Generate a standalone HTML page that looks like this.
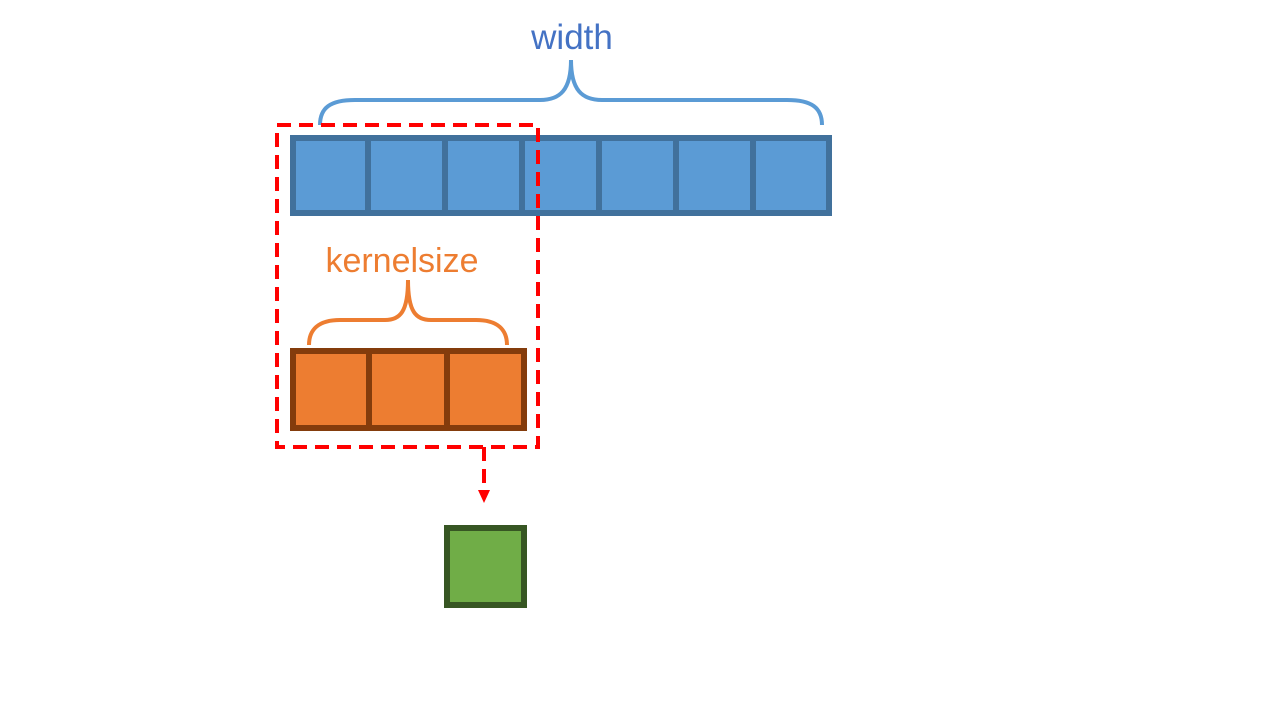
<!DOCTYPE html>
<html><head><meta charset="utf-8"><style>
html,body{margin:0;padding:0;background:#fff;}
svg{display:block;}
text{font-family:"Liberation Sans","Noto Sans CJK SC",sans-serif;}
</style></head><body>
<svg width="1280" height="720" viewBox="0 0 1280 720">
<text x="572" y="49" font-size="35" fill="#4472c4" text-anchor="middle">width</text>
<path d="M320,125 C320,108 330,100 355,100 L540,100 C560,100 571,90 571,60 C571,90 582,100 602,100 L787,100 C812,100 822,108 822,125" fill="none" stroke="#5b9bd5" stroke-width="4"/>
<g>
<rect x="293" y="138" width="536" height="75" fill="#5b9bd5" stroke="#41719c" stroke-width="6"/>
<g stroke="#41719c" stroke-width="6">
<line x1="368" y1="138" x2="368" y2="213"/><line x1="445" y1="138" x2="445" y2="213"/>
<line x1="522" y1="138" x2="522" y2="213"/><line x1="599" y1="138" x2="599" y2="213"/>
<line x1="676" y1="138" x2="676" y2="213"/><line x1="753" y1="138" x2="753" y2="213"/>
</g></g>
<text x="402" y="272" font-size="34" fill="#ed7d31" text-anchor="middle">kernelsize</text>
<path d="M309,345 C309,330 318,320 340,320 L385,320 C400,320 408,312 408,280 C408,312 416,320 431,320 L476,320 C498,320 507,330 507,345" fill="none" stroke="#ed7d31" stroke-width="4"/>
<g>
<rect x="293" y="351" width="231" height="77" fill="#ed7d31" stroke="#843c0c" stroke-width="6"/>
<g stroke="#843c0c" stroke-width="6">
<line x1="369" y1="351" x2="369" y2="428"/><line x1="447" y1="351" x2="447" y2="428"/>
</g></g>
<rect x="277" y="125" width="261" height="322" fill="none" stroke="#ff0000" stroke-width="4" stroke-dasharray="14,8"/>
<line x1="484" y1="447" x2="484" y2="492" stroke="#ff0000" stroke-width="4" stroke-dasharray="14,8"/>
<polygon points="478,490 490,490 484,503" fill="#ff0000"/>
<rect x="447" y="528" width="77" height="77" fill="#70ad47" stroke="#375623" stroke-width="6"/>
</svg>
</body></html>
